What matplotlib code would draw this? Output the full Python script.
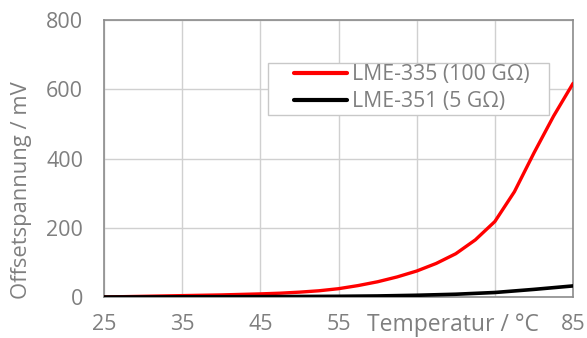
import matplotlib
matplotlib.use("Agg")
import matplotlib.pyplot as plt
from matplotlib.patches import Rectangle

# Offset voltage vs. temperature for two electrometer amplifiers
temp_red = [25, 27.5, 30, 32.5, 35, 37.5, 40, 42.5, 45, 47.5, 50, 52.5, 55,
            57.5, 60, 62.5, 65, 67.5, 70, 72.5, 75, 77.5, 80, 82.5, 85]
lme335 = [0, 1, 2, 3, 4, 5, 6, 7.5, 9, 11, 14, 18, 24,
          33, 44, 58, 75, 97, 125, 165, 218, 304, 416, 522, 617]

temp_blk = [25, 35, 45, 55, 60, 65, 70, 75, 80, 85]
lme351 = [0, 0.5, 1, 2, 3, 5, 8, 13, 22, 32]

xticks = [25, 35, 45, 55, 65, 75, 85]
xticklabels = ["25", "35", "45", "55", "", "", "85"]
yticks = [0, 200, 400, 600, 800]

grey = "#7f7f7f"
plt.rcParams["font.family"] = ["Open Sans", "DejaVu Sans"]

fig = plt.figure(figsize=(5.87, 3.38), dpi=100)
ax = fig.add_axes([0.1772, 0.1213, 0.7990, 0.8195])

ax.plot(temp_red, lme335, color="#ff0000", lw=2.4, label="LME-335 (100 GΩ)",
        solid_capstyle="round", solid_joinstyle="round", zorder=3)
ax.plot(temp_blk, lme351, color="#000000", lw=2.6, label="LME-351 (5 GΩ)",
        solid_capstyle="round", solid_joinstyle="round", zorder=4)

ax.set_xlim(25, 85)
ax.set_ylim(0, 800)
ax.set_xticks(xticks)
ax.set_xticklabels(xticklabels)
ax.set_yticks(yticks)
ax.grid(True, color="#d0d0d0", lw=1.0)
ax.set_axisbelow(True)
ax.tick_params(length=0, labelsize=15.5, labelcolor=grey)
ax.tick_params(axis="x", pad=12)
ax.tick_params(axis="y", pad=15)
for s in ax.spines.values():
    s.set_color("#8c8c8c")
    s.set_linewidth(1.2)

ax.text(-0.177, 0.385, "Offsetspannung / mV", transform=ax.transAxes,
        rotation=90, ha="center", va="center", fontsize=15.8, color=grey)
ax.annotate("Temperatur / °C", xy=(0.744, 0), xycoords="axes fraction",
            xytext=(0, -20), textcoords="offset points",
            ha="center", va="center", fontsize=16.5, color=grey)

# legend frame drawn separately for the wide left margin
ax.add_patch(Rectangle((0.35, 0.657), 0.599, 0.188, transform=ax.transAxes,
                       facecolor="white", edgecolor="#c8c8c8", lw=1.0, zorder=5))
leg = ax.legend(loc="upper left", bbox_to_anchor=(0.405, 0.84), borderaxespad=0,
                fontsize=15.3, frameon=False, handlelength=2.5,
                handletextpad=0.25, labelspacing=0.28, borderpad=0)
leg.set_zorder(6)
for line in leg.get_lines():
    line.set_linewidth(3.0)
for t in leg.get_texts():
    t.set_color(grey)

fig.savefig("out.png", dpi=100)
